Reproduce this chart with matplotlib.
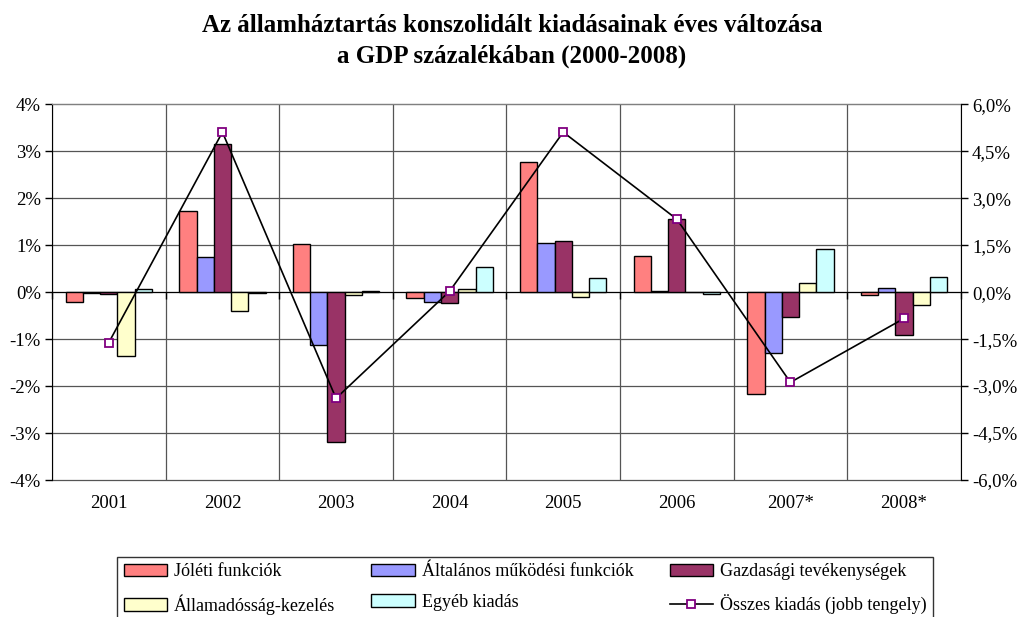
import numpy as np
import matplotlib
matplotlib.use("Agg")
import matplotlib.pyplot as plt
from matplotlib.ticker import FixedLocator, FuncFormatter

plt.rcParams['font.family'] = ['Liberation Serif', 'DejaVu Serif']

years = ['2001', '2002', '2003', '2004', '2005', '2006', '2007*', '2008*']

# annual change, % of GDP (left axis)
joleti = [-0.20, 1.72, 1.02, -0.13, 2.78, 0.78, -2.17, -0.07]
altalanos = [-0.02, 0.74, -1.12, -0.20, 1.04, 0.03, -1.29, 0.09]
gazdasagi = [-0.03, 3.15, -3.20, -0.24, 1.08, 1.56, -0.52, -0.92]
allamadossag = [-1.36, -0.41, -0.06, 0.06, -0.11, 0.00, 0.20, -0.28]
egyeb = [0.06, -0.02, 0.02, 0.54, 0.30, -0.03, 0.91, 0.33]
# total expenditure (right axis)
osszes = [-1.61, 5.11, -3.39, 0.03, 5.11, 2.33, -2.88, -0.84]

series = [
    ('Jóléti funkciók', joleti, '#FF8080'),
    ('Általános működési funkciók', altalanos, '#9999FF'),
    ('Gazdasági tevékenységek', gazdasagi, '#993366'),
    ('Államadósság-kezelés', allamadossag, '#FFFFCC'),
    ('Egyéb kiadás', egyeb, '#CCFFFF'),
]

fig = plt.figure(figsize=(10.2, 6.17), dpi=100)
ax = fig.add_axes([0.051, 0.222, 0.891, 0.609])

x = np.arange(len(years))
w = 0.152
bars = []
for i, (name, vals, col) in enumerate(series):
    b = ax.bar(x + (i - 2) * w, vals, w, color=col, edgecolor='black',
               linewidth=1.0, label=name, zorder=3)
    bars.append(b)

ax.set_xlim(-0.5, len(years) - 0.5)
ax.set_ylim(-4, 4)
ax.set_yticks(np.arange(-4, 5, 1))
ax.yaxis.set_major_formatter(FuncFormatter(lambda v, p: f'{v:.0f}%'))
ax.tick_params(axis='y', direction='out', length=5, width=1, labelsize=13.5, pad=3)

# category axis crosses at zero
ax.spines['bottom'].set_position(('data', 0))
ax.spines['bottom'].set_color('black')
ax.spines['top'].set_color('#808080')
ax.spines['right'].set_visible(False)
ax.set_xticks(x)
ax.xaxis.set_minor_locator(FixedLocator(np.arange(-0.5, len(years), 1)))
ax.tick_params(axis='x', which='major', length=0, labelbottom=False)
ax.tick_params(axis='x', which='minor', direction='out', length=5, width=1)

ax.set_axisbelow(True)
ax.grid(axis='y', which='major', color='#555555', linewidth=0.9)
ax.grid(axis='x', which='minor', color='#555555', linewidth=0.9)
for gl in ax.get_ygridlines():
    gl.set_clip_on(False)

sec = ax.secondary_xaxis('bottom')
sec.set_xticks(x)
sec.set_xticklabels(years)
sec.tick_params(length=0, labelsize=13.5, pad=11)
sec.spines['bottom'].set_visible(False)

ax2 = ax.twinx()
ax2.set_ylim(-6, 6)
ax2.set_yticks(np.arange(-6, 6.1, 1.5))
ax2.yaxis.set_major_formatter(FuncFormatter(lambda v, p: f'{v:.1f}%'.replace('.', ',')))
ax2.tick_params(axis='y', direction='out', length=5, width=1, labelsize=13.5, pad=3)
for s in ['top', 'bottom', 'left']:
    ax2.spines[s].set_visible(False)
line, = ax2.plot(x, osszes, color='black', linewidth=1.2, marker='s',
                 markersize=6, markerfacecolor='white', markeredgecolor='#800080',
                 markeredgewidth=1.3, label='Összes kiadás (jobb tengely)', zorder=5)

fig.suptitle('Az államháztartás konszolidált kiadásainak éves változása\n'
             'a GDP százalékában (2000-2008)',
             x=0.502, y=0.977, fontsize=18, fontweight='bold', linespacing=1.42)

handles = [bars[0], bars[3], bars[1], bars[4], bars[2], line]
labels = [series[0][0], series[3][0], series[1][0], series[4][0], series[2][0],
          'Összes kiadás (jobb tengely)']
leg = fig.legend(handles, labels, ncol=3, mode='expand',
                 loc='upper left', bbox_to_anchor=(0.115, 0.0, 0.8, 0.097),
                 fontsize=13, frameon=True, fancybox=False, edgecolor='black',
                 handlelength=2.4, handleheight=0.7, handletextpad=0.4,
                 borderpad=0.35, labelspacing=0.75, borderaxespad=0)
leg.get_frame().set_linewidth(1.0)

fig.savefig('out.png', dpi=100)
